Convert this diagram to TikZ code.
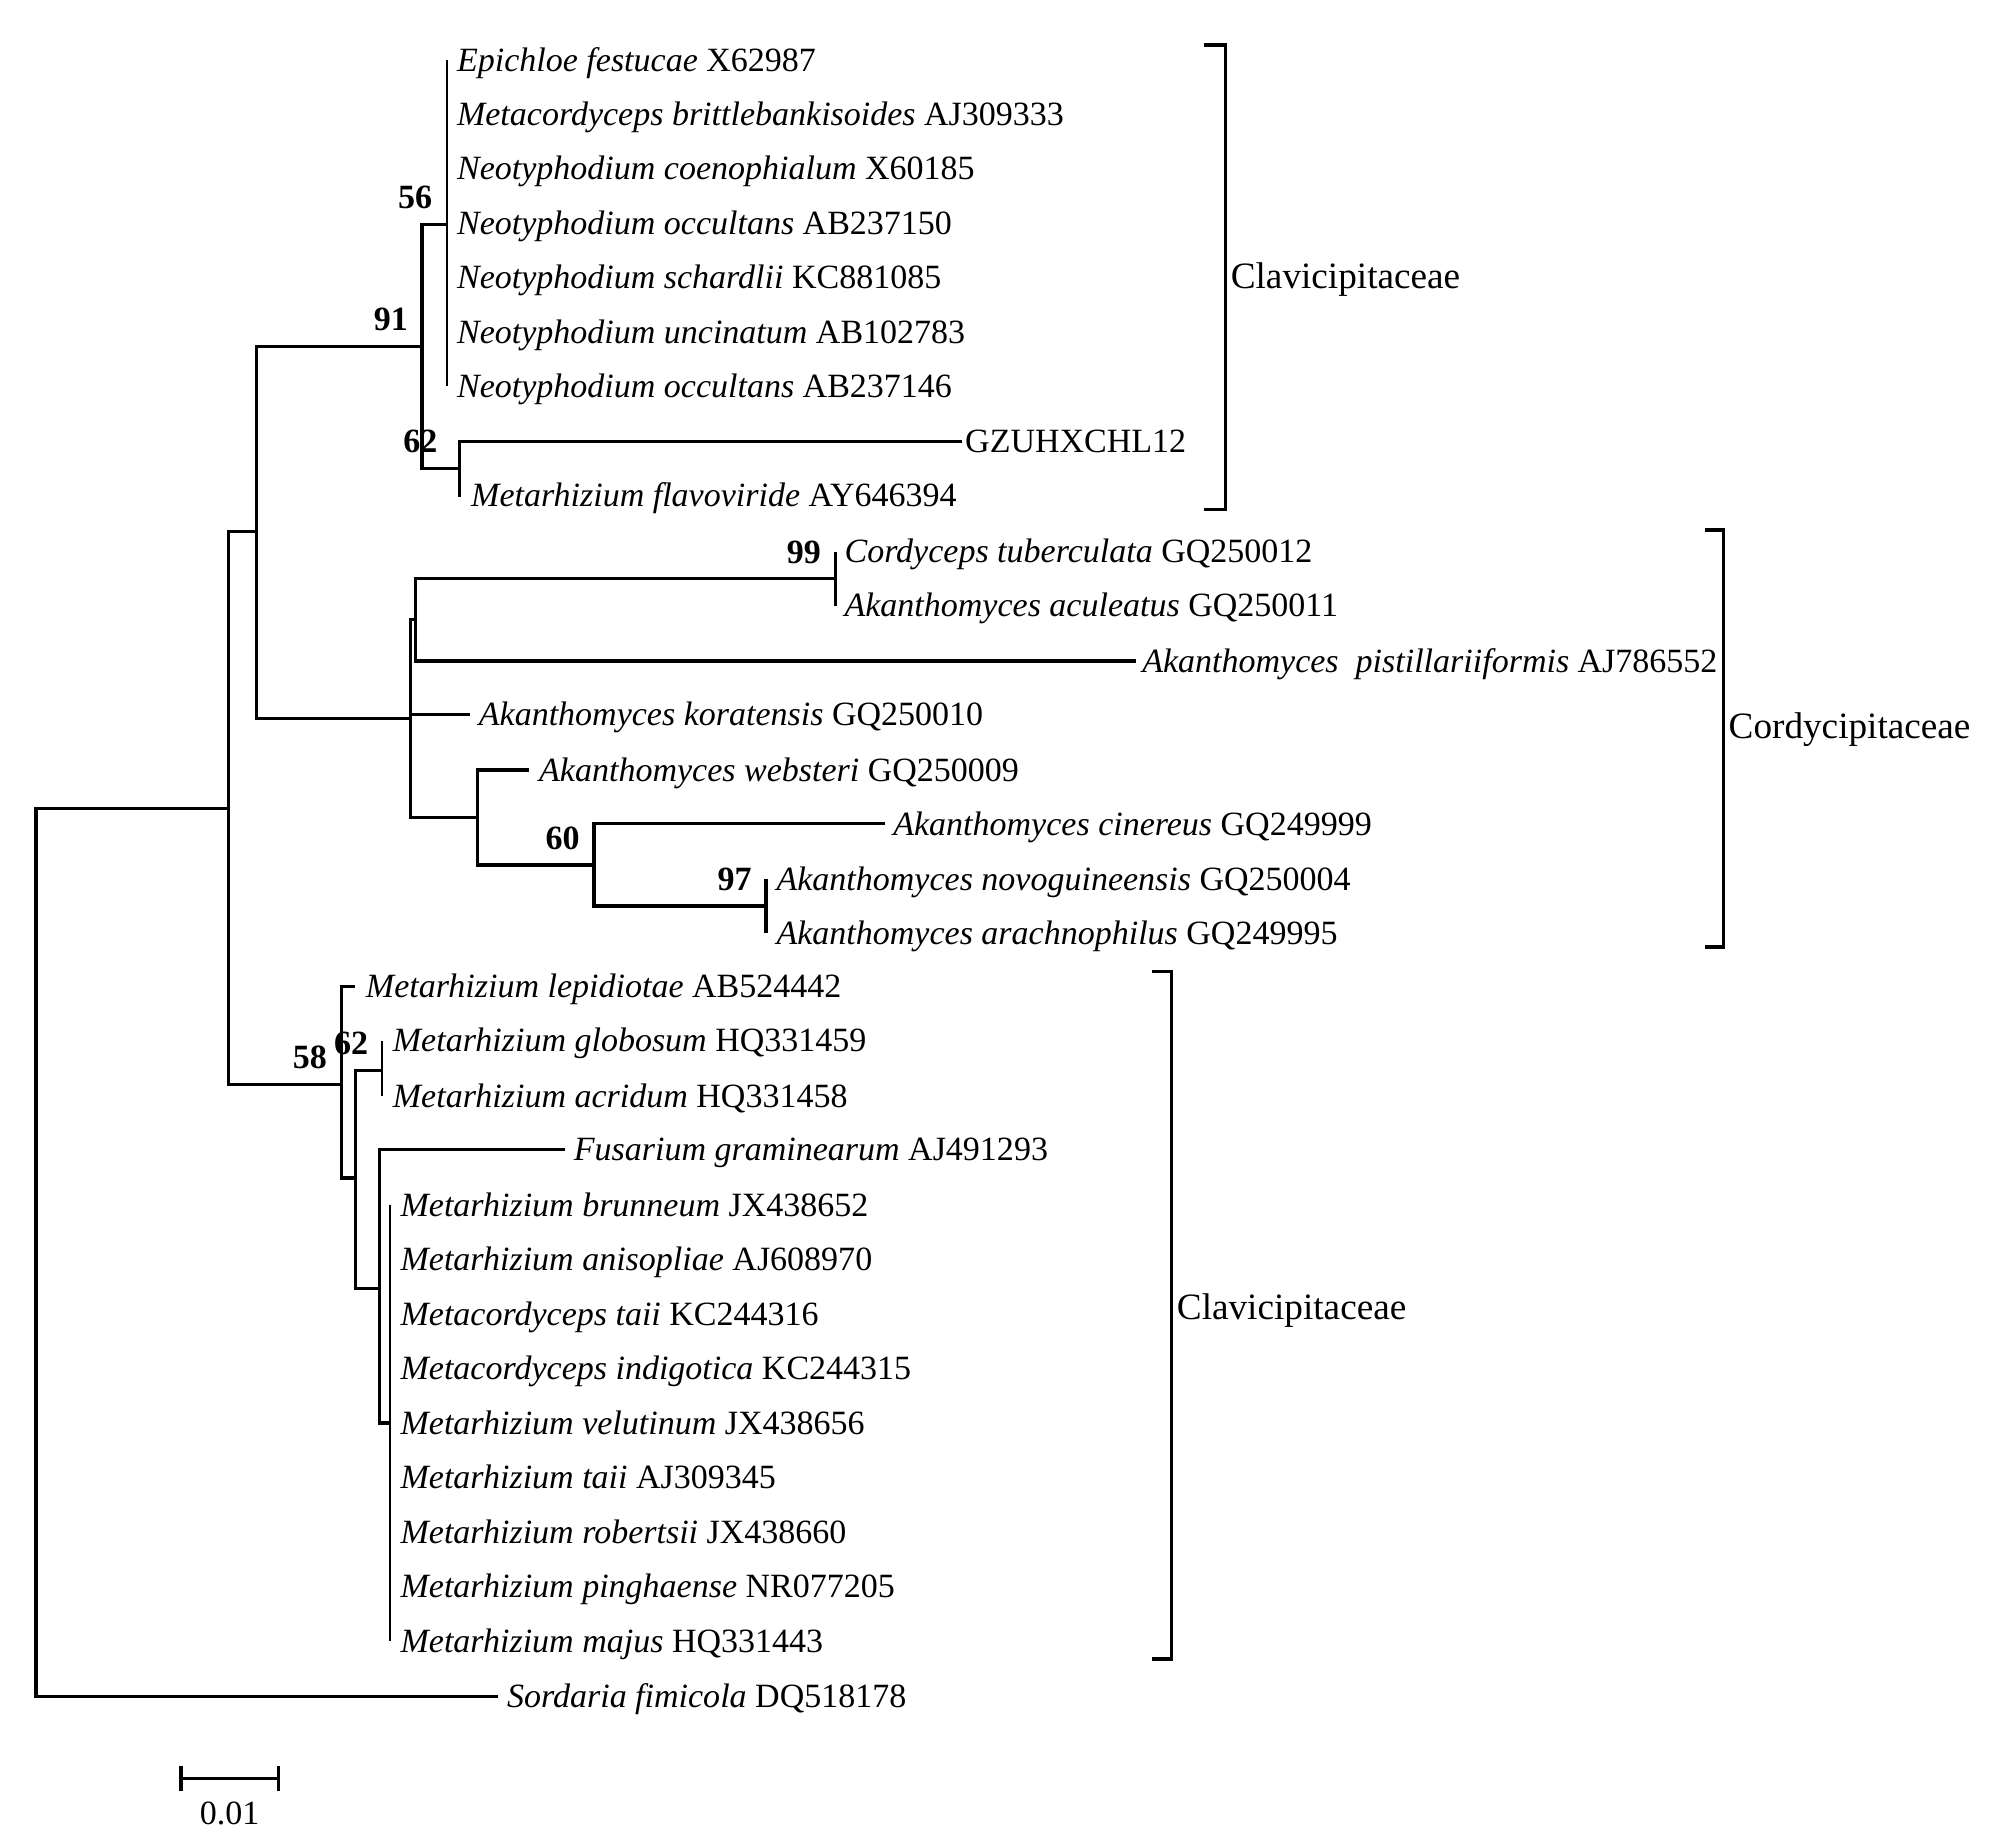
\documentclass[tikz,border=0pt]{standalone}
\usepackage{fontspec}
\setmainfont{Liberation Serif}
\usepackage{tikz}
\usetikzlibrary{positioning}

\begin{document}
\begin{tikzpicture}[x=1pt, y=-1pt, font=\fontsize{26.5}{32}\selectfont,
    branch/.style={line width=2.6pt},
    twig/.style={line width=1.6pt},
    leaf/.style={anchor=west, inner xsep=8pt, inner ysep=0pt, text height=17.5pt, text depth=0pt},
    boot/.style={font=\fontsize{26.5}{32}\selectfont\bfseries, anchor=south east, inner sep=0pt,
      xshift=-11pt, yshift=12pt, text height=17.5pt, text depth=0pt},
    family/.style={anchor=west, inner xsep=4pt, inner ysep=0pt, font=\fontsize{29}{34}\selectfont,
      text height=19.2pt, text depth=0pt},
    bar/.style={line width=2.6pt}]
  \useasboundingbox (0,0) rectangle (1568,1439);

  % internal nodes
  \coordinate (root) at (28,976);
  \coordinate (nA) at (178,630);
  \coordinate (nB) at (200,414);
  \coordinate (n91) at (329,270);
  \coordinate (n56) at (348,175);
  \coordinate (n62a) at (358,365);
  \coordinate (nC) at (320,560);
  \coordinate (nD) at (324,483);
  \coordinate (n99) at (651,451);
  \coordinate (nE) at (372,637);
  \coordinate (n60) at (463,674);
  \coordinate (n97) at (597,706);
  \coordinate (n58) at (266,845);
  \coordinate (nG) at (277,918);
  \coordinate (n62b) at (298,834);
  \coordinate (nI) at (296,1004);
  \coordinate (nJ) at (304,1109);

  % taxa
  \node[leaf] (efes) at (348,47) {\textit{Epichloe festucae} X62987};
  \node[leaf] (mbri) at (348,89) {\textit{Metacordyceps brittlebankisoides} AJ309333};
  \node[leaf] (ncoe) at (348,131) {\textit{Neotyphodium coenophialum} X60185};
  \node[leaf] (nocA) at (348,174) {\textit{Neotyphodium occultans} AB237150};
  \node[leaf] (nsch) at (348,216) {\textit{Neotyphodium schardlii} KC881085};
  \node[leaf] (nunc) at (348,259) {\textit{Neotyphodium uncinatum} AB102783};
  \node[leaf] (nocB) at (348,301) {\textit{Neotyphodium occultans} AB237146};
  \node[leaf, inner xsep=2pt] (gzu) at (750,344) {GZUHXCHL12};
  \node[leaf] (mfla) at (359,386) {\textit{Metarhizium flavoviride} AY646394};
  \node[leaf, inner xsep=7pt] (ctub) at (651,430) {\textit{Cordyceps tuberculata} GQ250012};
  \node[leaf, inner xsep=7pt] (aacu) at (651,472) {\textit{Akanthomyces aculeatus} GQ250011};
  \node[leaf, inner xsep=5pt] (apis) at (885,515) {\textit{Akanthomyces\ \ pistillariiformis} AJ786552};
  \node[leaf, inner xsep=7pt] (akor) at (366,557) {\textit{Akanthomyces koratensis} GQ250010};
  \node[leaf] (aweb) at (412,600) {\textit{Akanthomyces websteri} GQ250009};
  \node[leaf, inner xsep=6pt] (acin) at (690,642) {\textit{Akanthomyces cinereus} GQ249999};
  \node[leaf] (anov) at (597,685) {\textit{Akanthomyces novoguineensis} GQ250004};
  \node[leaf] (aara) at (597,727) {\textit{Akanthomyces arachnophilus} GQ249995};
  \node[leaf] (mlep) at (277,769) {\textit{Metarhizium lepidiotae} AB524442};
  \node[leaf] (mglo) at (298,811) {\textit{Metarhizium globosum} HQ331459};
  \node[leaf] (macr) at (298,854) {\textit{Metarhizium acridum} HQ331458};
  \node[leaf, inner xsep=7pt] (fgra) at (440,896) {\textit{Fusarium graminearum} AJ491293};
  \node[leaf] (mbru) at (304,939) {\textit{Metarhizium brunneum} JX438652};
  \node[leaf] (mani) at (304,981) {\textit{Metarhizium anisopliae} AJ608970};
  \node[leaf] (mtaiA) at (304,1024) {\textit{Metacordyceps taii} KC244316};
  \node[leaf] (mind) at (304,1066) {\textit{Metacordyceps indigotica} KC244315};
  \node[leaf] (mvel) at (304,1109) {\textit{Metarhizium velutinum} JX438656};
  \node[leaf] (mtaiB) at (304,1151) {\textit{Metarhizium taii} AJ309345};
  \node[leaf] (mrob) at (304,1194) {\textit{Metarhizium robertsii} JX438660};
  \node[leaf] (mpin) at (304,1236) {\textit{Metarhizium pinghaense} NR077205};
  \node[leaf] (mmaj) at (304,1279) {\textit{Metarhizium majus} HQ331443};
  \node[leaf, inner xsep=7pt] (sfim) at (388,1322) {\textit{Sordaria fimicola} DQ518178};

  % branches
  \draw[branch] (root) |- (nA);
  \draw[branch] (root) |- (sfim.west);
  \draw[branch] (nA) |- (nB);
  \draw[branch] (nA) |- (n58);
  \draw[branch] (nB) |- (n91);
  \draw[branch] (nB) |- (nC);
  \draw[branch] (n91) |- (n56);
  \draw[branch] (n91) |- (n62a);
  \foreach \t in {efes,mbri,ncoe,nocA,nsch,nunc,nocB}
    \draw[twig] (n56) |- (\t.west);
  \draw[branch] (n62a) |- (gzu.west);
  \draw[branch] (n62a) |- (mfla.west);
  \draw[branch] (nC) |- (nD);
  \draw[branch] (nC) |- (akor.west);
  \draw[branch] (nC) |- (nE);
  \draw[branch] (nD) |- (n99);
  \draw[branch] (nD) |- (apis.west);
  \draw[branch] (n99) |- (ctub.west);
  \draw[branch] (n99) |- (aacu.west);
  \draw[branch] (nE) |- (aweb.west);
  \draw[branch] (nE) |- (n60);
  \draw[branch] (n60) |- (acin.west);
  \draw[branch] (n60) |- (n97);
  \draw[branch] (n97) |- (anov.west);
  \draw[branch] (n97) |- (aara.west);
  \draw[branch] (n58) |- (mlep.west);
  \draw[branch] (n58) |- (nG);
  \draw[branch] (nG) |- (n62b);
  \draw[branch] (nG) |- (nI);
  \draw[twig] (n62b) |- (mglo.west);
  \draw[twig] (n62b) |- (macr.west);
  \draw[branch] (nI) |- (fgra.west);
  \draw[branch] (nI) |- (nJ);
  \foreach \t in {mbru,mani,mtaiA,mind,mvel,mtaiB,mrob,mpin,mmaj}
    \draw[twig] (nJ) |- (\t.west);

  % bootstrap values
  \node[boot] (b56) at (n56) {56};
  \node[boot] (b91) at (n91) {91};
  \node[boot, xshift=-6pt] (b62a) at (n62a) {62};
  \node[boot] (b99) at (n99) {99};
  \node[boot] (b60) at (n60) {60};
  \node[boot] (b97) at (n97) {97};
  \node[boot] (b58) at (n58) {58};
  \node[boot] (b62b) at (n62b) {62};

  % families
  \draw[bar] (938,35) -| (955,397) -- (938,397);
  \node[family] (clavA) at (955,215) {Clavicipitaceae};
  \draw[bar] (1329,413) -| (1343,738) -- (1329,738);
  \node[family] (cordy) at (1343,566) {Cordycipitaceae};
  \draw[bar] (898,757) -| (913,1293) -- (898,1293);
  \node[family] (clavB) at (913,1019) {Clavicipitaceae};

  % scale bar
  \coordinate (sL) at (141,1386);
  \coordinate (sR) at (217,1386);
  \draw[branch] (sL) -- (sR);
  \draw[branch] ([yshift=9.5pt]sL) -- ([yshift=-9.5pt]sL);
  \draw[branch] ([yshift=9.5pt]sR) -- ([yshift=-9.5pt]sR);
  \node[text height=17.5pt, text depth=0pt, inner sep=0pt] (scale) at (179,1413) {0.01};
\end{tikzpicture}
\end{document}
